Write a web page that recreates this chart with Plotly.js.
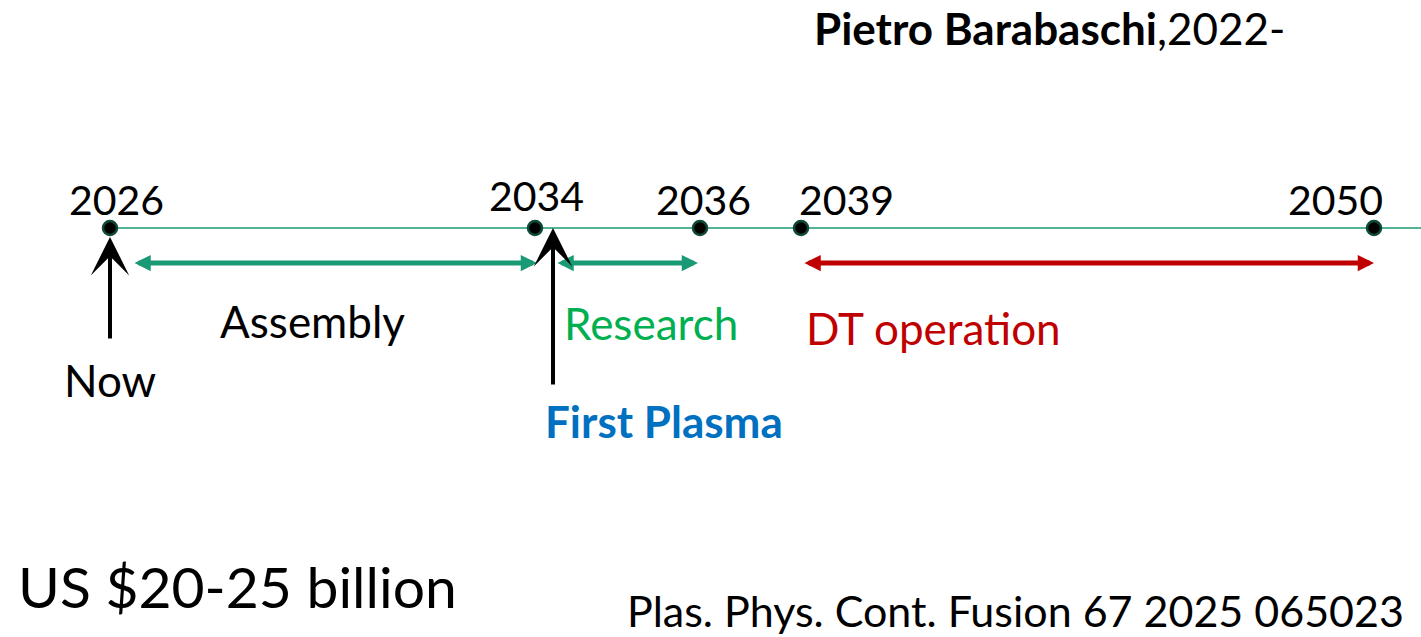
<!DOCTYPE html>
<html>
<head>
<meta charset="utf-8">
<script src="https://cdn.plot.ly/plotly-3.0.1.min.js"></script>
<style>html,body{margin:0;padding:0;background:#fff;}#chart{width:1421px;height:637px;}</style>
</head>
<body>
<div id="chart"></div>
<script>
// Schematic timeline: positions along the (non-linear) drawn timeline
const milestoneYears = ['2026', '2034', '2036', '2039', '2050'];
const milestonePos = [110, 535, 700, 801, 1374];
const milestoneLabelPos = [116, 536, 703, 846, 1335];
const timelineEnd = 1421;

const phaseNames = ['Assembly', 'Research', 'DT operation'];
const phaseStart = [133, 556, 803];
const phaseEnd = [537, 698, 1374];
const phaseLabelPos = [312, 651, 933];
const phaseColors = ['#1a9a74', '#1a9a74', '#c00000'];
const phaseTextColors = ['#000000', '#00b050', '#c00000'];

const eventNames = ['Now', 'First Plasma'];
const eventPos = [110, 553];
const eventLabelPos = [110, 664];

const FONT = 'Lato, "Noto Sans", sans-serif';
const W = 1421, H = 637;

// y levels (schematic rows)
const yLine = 228, yPhase = 263;

const traces = [
  {
    x: [milestonePos[0], timelineEnd], y: [yLine, yLine],
    mode: 'lines', line: {color: '#1a9a74', width: 1.5},
    hoverinfo: 'skip', showlegend: false
  },
  {
    x: milestonePos, y: milestonePos.map(() => yLine),
    mode: 'markers',
    marker: {size: 14, color: '#000', line: {color: '#0d4a3a', width: 2.5}},
    text: milestoneYears, hoverinfo: 'text', showlegend: false
  }
];

const ann = [];
// year labels
const yearY = [199, 195, 199, 199, 199];
milestoneYears.forEach((t, i) => {
  ann.push({x: milestoneLabelPos[i], y: yearY[i], xref: 'x', yref: 'y', text: t, showarrow: false,
    xanchor: 'center', yanchor: 'middle', font: {family: FONT, size: 41, color: '#000'}});
});
// phase arrows
phaseNames.forEach((n, i) => {
  ann.push({x: phaseEnd[i], y: yPhase, ax: phaseStart[i], ay: yPhase, xref: 'x', yref: 'y', axref: 'x', ayref: 'y',
    text: '', showarrow: true, arrowside: 'end+start', arrowhead: 2, startarrowhead: 2,
    arrowsize: 0.65, startarrowsize: 0.65, arrowwidth: 5, arrowcolor: phaseColors[i]});
});
const phaseY = [321, 323, 328];
phaseNames.forEach((n, i) => {
  ann.push({x: phaseLabelPos[i], y: phaseY[i], xref: 'x', yref: 'y', text: n, showarrow: false,
    xanchor: 'center', yanchor: 'middle', font: {family: FONT, size: 44, color: phaseTextColors[i]}});
});
// event arrows
const eventTip = [237, 228];
const eventTail = [340, 386];
eventNames.forEach((n, i) => {
  ann.push({x: eventPos[i], y: eventTip[i], ax: eventPos[i], ay: eventTail[i], xref: 'x', yref: 'y', axref: 'x', ayref: 'y',
    text: '', showarrow: true, arrowhead: 3, arrowsize: 1.6, arrowwidth: 4, arrowcolor: '#000'});
});
ann.push({x: eventLabelPos[0], y: 380, xref: 'x', yref: 'y', text: eventNames[0], showarrow: false,
  xanchor: 'center', yanchor: 'middle', font: {family: FONT, size: 44, color: '#000'}});
ann.push({x: eventLabelPos[1], y: 421, xref: 'x', yref: 'y', text: '<b>' + eventNames[1] + '</b>', showarrow: false,
  xanchor: 'center', yanchor: 'middle', font: {family: FONT, size: 44, color: '#0070c0'}});
// other texts
ann.push({x: 1049, y: 28, xref: 'x', yref: 'y', text: '<b>Pietro Barabaschi</b>,2022-', showarrow: false,
  xanchor: 'center', yanchor: 'middle', font: {family: FONT, size: 44, color: '#000'}});
ann.push({x: 237, y: 586, xref: 'x', yref: 'y', text: 'US $20-25 billion', showarrow: false,
  xanchor: 'center', yanchor: 'middle', font: {family: FONT, size: 57, color: '#000'}});
ann.push({x: 1015, y: 637, xref: 'x', yref: 'y', text: 'Plas. Phys. Cont. Fusion 67 2025 065023', showarrow: false,
  xanchor: 'center', yanchor: 'bottom', borderpad: 0, font: {family: FONT, size: 43, color: '#000'}});

const layout = {
  width: W, height: H,
  margin: {l: 0, r: 0, t: 0, b: 0, pad: 0},
  paper_bgcolor: '#fff', plot_bgcolor: '#fff',
  xaxis: {range: [0, W], visible: false, fixedrange: true},
  yaxis: {range: [H, 0], visible: false, fixedrange: true},
  annotations: ann,
  showlegend: false
};

Plotly.newPlot('chart', traces, layout, {displayModeBar: false, staticPlot: true});
</script>
</body>
</html>
